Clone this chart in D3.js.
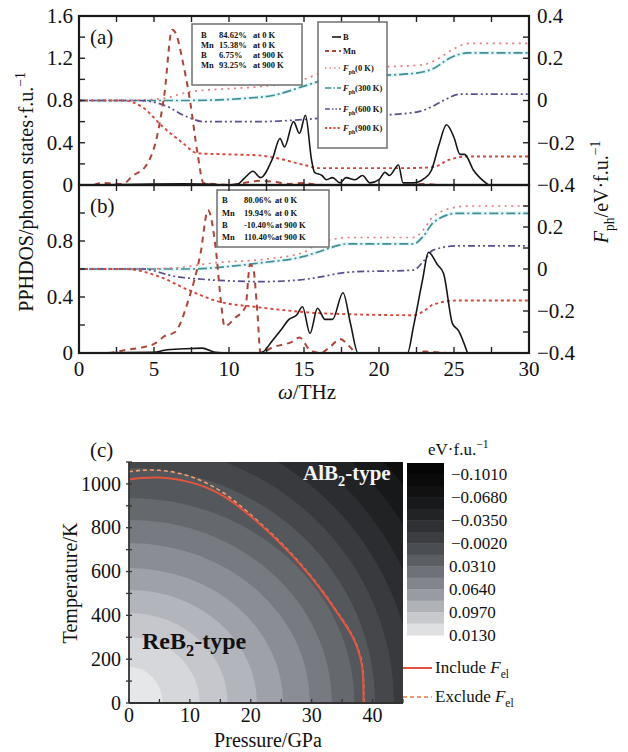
<!DOCTYPE html>
<html><head><meta charset="utf-8">
<script src="https://cdn.jsdelivr.net/npm/d3@7/dist/d3.min.js"></script>
<style>
body{margin:0;background:#fff;}
svg{display:block;}
text{font-family:"Liberation Serif","Times New Roman",serif;fill:#111;}
</style></head><body>
<svg id="chart" width="628" height="752"></svg>
<script>
// ---------------- data ----------------
const freqMajor = [0,5,10,15,20,25,30];
const freqMinor = [0,2.5,5,7.5,10,12.5,15,17.5,20,22.5,25,27.5,30];
const aLeftMajor = [0,0.4,0.8,1.2,1.6];
const aLeftMinor = [0,0.2,0.4,0.6,0.8,1.0,1.2,1.4,1.6];
const aRightMajor = [-0.4,-0.2,0,0.2,0.4];
const rightMinor = [-0.4,-0.3,-0.2,-0.1,0,0.1,0.2,0.3,0.4];
const bLeftMajor = [0,0.4,0.8];
const bLeftMinor = [0,0.2,0.4,0.6,0.8,1.0,1.2];
const bRightMajor = [-0.4,-0.2,0,0.2];

// panel (a): [frequency THz, PPHDOS]
const aB = [[0,0],[3,0.004],[5,0.01],[7,0.012],[8.5,0.008],[10,0],[10.6,0.01],[11,0.06],[11.6,0.13],[12.1,0.07],[12.9,0.25],[13.4,0.44],[13.7,0.36],[14.3,0.6],[14.7,0.49],[15.1,0.66],[15.5,0.24],[15.7,0.12],[16.2,0.09],[16.5,0.05],[16.9,0.07],[17.4,0.02],[17.8,0.07],[18.4,0.05],[18.9,0.09],[19.4,0.02],[20,0.05],[20.4,0.12],[20.7,0.09],[21.3,0.19],[21.6,0.02],[22.3,0.02],[23,0.06],[23.5,0.14],[24,0.38],[24.5,0.57],[25,0.45],[25.4,0.29],[25.7,0.29],[26.3,0.14],[27.3,0]];
const aMn = [[1,0],[1.5,0.02],[2.9,0.01],[3.6,0.09],[4.4,0.17],[5.2,0.46],[5.7,0.87],[6.2,1.47],[6.5,1.42],[6.9,1.18],[7.4,0.8],[7.9,0.3],[8.3,0.02],[9,0.01],[10,0],[11,0.02],[12,0.04],[13,0.03],[14,0.01],[15,0.02],[16,0],[22,0],[23,0.01],[24,0]];
// panel (a): [frequency THz, F_ph eV/f.u.]
const aF0   = [[0,0],[3,0],[5.6,0.01],[7.3,0.04],[9.7,0.055],[12,0.065],[15,0.1],[16.5,0.14],[18,0.155],[20.5,0.16],[23,0.17],[24,0.2],[25,0.245],[26,0.27],[30,0.27]];
const aF300 = [[0,0],[7,0],[9,0.002],[11,0.01],[13,0.025],[15,0.068],[16.5,0.1],[18,0.115],[20.5,0.12],[22.5,0.13],[23.6,0.15],[24.7,0.2],[25.9,0.225],[30,0.225]];
const aF600 = [[0,0],[4,0],[5.6,-0.02],[7.3,-0.08],[8.3,-0.1],[12,-0.1],[15,-0.09],[17,-0.078],[20,-0.07],[22.5,-0.055],[23.5,-0.03],[24.3,0],[25.4,0.03],[30,0.03]];
const aF900 = [[0,0],[2.9,0],[4.2,-0.03],[5.6,-0.125],[6.9,-0.2],[7.9,-0.25],[10,-0.255],[12,-0.26],[13,-0.27],[15,-0.305],[16,-0.32],[22,-0.32],[23.6,-0.315],[24.7,-0.28],[25.9,-0.265],[30,-0.265]];

// panel (b)
const bB = [[0,0],[5,0.005],[5.7,0.02],[7,0.03],[8.2,0.035],[9.1,0.005],[10,0],[11.5,0],[12.2,0.005],[12.9,0.09],[13.5,0.17],[14,0.24],[14.5,0.27],[14.9,0.33],[15.4,0.14],[15.9,0.32],[16.4,0.24],[16.9,0.24],[17.6,0.43],[18.1,0.21],[18.6,0],[21.9,0],[22.3,0.19],[22.9,0.52],[23.3,0.72],[23.9,0.63],[24.3,0.57],[24.9,0.21],[25.3,0.16],[25.9,0]];
const bMn = [[0.5,0],[1.9,0],[3,0.02],[4.2,0.04],[5.1,0.07],[5.7,0.12],[6.4,0.15],[7.3,0.38],[8.1,0.71],[8.6,1.02],[9.1,0.76],[9.5,0.33],[9.7,0.19],[10.4,0.25],[11.1,0.33],[11.4,0.63],[11.6,0.61],[11.9,0.28],[12.1,0],[12.9,0.04],[14.2,0.08],[14.7,0.11],[15.4,0.02],[16.1,0],[16.8,0.05],[17.4,0.1],[18.1,0.04],[18.5,0],[22.5,0],[23,0.01],[23.8,0.005],[24.5,0]];
const bF0   = [[0,0],[4,0],[6.4,0.005],[9.1,0.03],[12.2,0.045],[15,0.08],[15.9,0.12],[18,0.15],[22.3,0.15],[23,0.19],[23.6,0.25],[25.2,0.295],[26,0.3],[30,0.3]];
const bF300 = [[0,0],[7.5,0],[9.7,0.01],[12.2,0.03],[15,0.06],[15.9,0.08],[18,0.12],[22.3,0.12],[23,0.16],[23.6,0.22],[25.2,0.265],[30,0.265]];
const bF600 = [[0,0],[4.2,0],[6.4,-0.035],[8.4,-0.05],[12.2,-0.06],[15,-0.05],[15.9,-0.04],[18,-0.015],[22.3,-0.005],[23,0.04],[23.6,0.09],[25.2,0.11],[30,0.11]];
const bF900 = [[0,0],[3.1,0],[5.3,-0.035],[7.3,-0.1],[9.3,-0.155],[11.7,-0.18],[15,-0.205],[15.9,-0.21],[22.3,-0.22],[23,-0.2],[23.6,-0.17],[25.2,-0.15],[30,-0.15]];

const aNotes = [["B","84.62%","at 0 K"],["Mn","15.38%","at 0 K"],["B","6.75%","at 900 K"],["Mn","93.25%","at 900 K"]];
const bNotes = [["B","80.06%","at 0 K"],["Mn","19.94%","at 0 K"],["B","-10.40%","at 900 K"],["Mn","110.40%","at 900 K"]];

// panel (c)
const pressMajor = [0,10,20,30,40];
const pressMinor = [0,5,10,15,20,25,30,35,40,45];
const tempMajor = [0,200,400,600,800,1000];
const tempMinor = [0,100,200,300,400,500,600,700,800,900,1000,1100];
// contour band boundaries: intercept on pressure axis (GPa) and on temperature axis (K)
const bandP = [5.5,11.6,16.2,21,25.3,29.7,33.3,37,40.4,43.5,46.8,50,53.5,57];
const bandT = [165,300,411,516,616,730,836,936,1073,1180,1290,1400,1510,1620];
const bandColors = ["#e6e7e9","#d6d7db","#c5c7cc","#b2b5bb","#9ea1a8","#8a8d94","#777a80","#65686d","#54575b","#45474b","#383a3d","#2c2d30","#212224","#17181a","#0e0e0f"];
const cbarColors = ["#050505","#0a0a0b","#111112","#18191a","#222325","#2e3033","#3b3d41","#4a4d51","#5b5e63","#6e7177","#82858b","#989ba1","#afb2b7","#c7c9cd","#dfe0e2"];
const cbarLabels = ["−0.1010","−0.0680","−0.0350","−0.0020","0.0310","0.0640","0.0970","0.0130"];
const cInclude = [[0,1020],[2,1027],[5,1029],[8,1020],[11,1000],[13.5,974],[16,936],[18.5,886],[21.1,826],[24,752],[26.7,676],[29.5,588],[32.1,495],[34.5,400],[36.6,308],[37.6,245],[38.2,180],[38.45,110],[38.5,50],[38.5,0]];
const cExclude = [[0,1055],[2,1062],[5,1062],[8,1050],[11,1025],[13.5,992],[16,950],[18.5,895],[21.1,832],[24,757],[26.7,680],[29.5,591],[32.1,498],[34.5,403],[36.6,311],[37.6,248],[38.25,182],[38.5,110],[38.55,50],[38.55,0]];

// ---------------- helpers ----------------
const svg = d3.select("#chart");
const fmt = v => String(Math.round(v*10)/10).replace("-", "−");

function rich(sel, parts, fs) {
  let shift = 0;
  parts.forEach(p => {
    const target = p.sub ? fs*0.3 : (p.sup ? -fs*0.42 : 0);
    const ts = sel.append("tspan").text(p.t);
    if (target - shift !== 0) ts.attr("dy", target - shift);
    shift = target;
    if (p.sub || p.sup) ts.attr("font-size", fs*0.68);
    if (p.it) ts.attr("font-style", "italic");
  });
  return sel;
}

const X = d3.scaleLinear().domain([0,30]).range([79,529]);
const styles = {
  B:    {stroke:"#161616", w:1.6, dash:null},
  Mn:   {stroke:"#ad4539", w:2.0, dash:"6,5"},
  F0:   {stroke:"#e77a7c", w:1.7, dash:"2,4.5"},
  F300: {stroke:"#3e8e94", w:1.7, dash:"9,3,2,3"},
  F600: {stroke:"#5b4d8e", w:1.7, dash:"7,3,2,3,2,3"},
  F900: {stroke:"#d6473a", w:1.9, dash:"3,3"}
};

function drawPanel(p) {
  const g = svg.append("g");
  const y0 = p.yL.range()[0], y1 = p.yL.range()[1];
  const id = "clip" + p.name;
  svg.append("clipPath").attr("id", id).append("rect")
    .attr("x", X.range()[0]).attr("y", y1).attr("width", X.range()[1]-X.range()[0]).attr("height", y0-y1);
  const lg = g.append("g").attr("clip-path", `url(#${id})`);
  const lineL = d3.line().x(d=>X(d[0])).y(d=>p.yL(d[1])).curve(d3.curveMonotoneX);
  const lineR = d3.line().x(d=>X(d[0])).y(d=>p.yR(d[1])).curve(d3.curveMonotoneX);
  const series = [
    {d:p.F300, s:"F300", r:true, halo:true},
    {d:p.F0, s:"F0", r:true},
    {d:p.F600, s:"F600", r:true},
    {d:p.F900, s:"F900", r:true},
    {d:p.Mn, s:"Mn", r:false},
    {d:p.B, s:"B", r:false}
  ];
  series.forEach(se => {
    const st = styles[se.s];
    const gen = se.r ? lineR : lineL;
    if (se.halo) lg.append("path").attr("d", gen(se.d)).attr("fill","none")
      .attr("stroke","#d2eff1").attr("stroke-width",4).attr("opacity",0.55);
    lg.append("path").attr("d", gen(se.d)).attr("fill","none")
      .attr("stroke", st.stroke).attr("stroke-width", st.w)
      .attr("stroke-dasharray", st.dash).attr("stroke-linejoin","round");
  });
  // notes box
  const nb = p.noteBox;
  g.append("rect").attr("x", nb.x).attr("y", nb.y).attr("width", nb.w).attr("height", nb.h)
    .attr("fill","#fff").attr("stroke","#6f6f6f").attr("stroke-width",1.5);
  p.notes.forEach((row, i) => {
    row.forEach((t, j) => {
      g.append("text").attr("x", nb.cols[j]).attr("y", nb.rows[i])
        .attr("font-size", 8.5).attr("font-weight","bold").attr("fill","#222").text(t);
    });
  });
  // ticks
  const tk = g.append("g").attr("stroke","#222").attr("stroke-width",1.4);
  freqMinor.forEach(v => {
    tk.append("line").attr("x1", X(v)).attr("x2", X(v)).attr("y1", y0).attr("y2", y0-6);
    tk.append("line").attr("x1", X(v)).attr("x2", X(v)).attr("y1", y1).attr("y2", y1+6);
  });
  p.leftMinor.forEach(v => tk.append("line").attr("x1", X(0)).attr("x2", X(0)+6).attr("y1", p.yL(v)).attr("y2", p.yL(v)));
  rightMinor.forEach(v => tk.append("line").attr("x1", X(30)).attr("x2", X(30)-6).attr("y1", p.yR(v)).attr("y2", p.yR(v)));
  p.leftMajor.forEach(v => g.append("text").attr("x", 73).attr("y", p.yL(v)).attr("dy","0.33em")
    .attr("text-anchor","end").attr("font-size",21).text(fmt(v)));
  p.rightMajor.forEach(v => g.append("text").attr("x", 537).attr("y", p.yR(v)).attr("dy","0.33em")
    .attr("font-size",21).text(fmt(v)));
  // frame
  g.append("rect").attr("x", X(0)).attr("y", y1).attr("width", X(30)-X(0)).attr("height", y0-y1)
    .attr("fill","none").attr("stroke","#1a1a1a").attr("stroke-width",2.2);
  g.append("text").attr("x", 90).attr("y", p.labelY).attr("font-size",21).text(p.label);
}

drawPanel({
  name:"a", label:"(a)", labelY:44,
  yL: d3.scaleLinear().domain([0,1.6]).range([185,16]),
  yR: d3.scaleLinear().domain([-0.4,0.4]).range([185,16]),
  B:aB, Mn:aMn, F0:aF0, F300:aF300, F600:aF600, F900:aF900,
  leftMajor:aLeftMajor, leftMinor:aLeftMinor, rightMajor:aRightMajor,
  notes:aNotes, noteBox:{x:192,y:24,w:110,h:61,cols:[201,219,253],rows:[38,48,58,68]}
});
drawPanel({
  name:"b", label:"(b)", labelY:213,
  yL: d3.scaleLinear().domain([0,1.2]).range([353,185]),
  yR: d3.scaleLinear().domain([-0.4,0.4]).range([353,185]),
  B:bB, Mn:bMn, F0:bF0, F300:bF300, F600:bF600, F900:bF900,
  leftMajor:bLeftMajor, leftMinor:bLeftMinor, rightMajor:bRightMajor,
  notes:bNotes, noteBox:{x:217,y:190,w:112,h:57,cols:[222,244,275],rows:[203,216,228,240]}
});

// legend (a)
const leg = svg.append("g");
leg.append("rect").attr("x",318).attr("y",22).attr("width",69).attr("height",126)
  .attr("fill","#fff").attr("stroke","#6f6f6f").attr("stroke-width",1.5);
const legItems = [
  {s:"B", y:37, x1:332, parts:[{t:"B"}]},
  {s:"Mn", y:51, x1:325, parts:[{t:"Mn"}]},
  {s:"F0", y:68, x1:325, parts:[{t:"F",it:true},{t:"ph",sub:true},{t:"(0 K)"}]},
  {s:"F300", y:88, x1:325, parts:[{t:"F",it:true},{t:"ph",sub:true},{t:"(300 K)"}]},
  {s:"F600", y:109, x1:325, parts:[{t:"F",it:true},{t:"ph",sub:true},{t:"(600 K)"}]},
  {s:"F900", y:128, x1:325, parts:[{t:"F",it:true},{t:"ph",sub:true},{t:"(900 K)"}]}
];
legItems.forEach(it => {
  const st = styles[it.s];
  leg.append("line").attr("x1", it.x1).attr("x2", 341).attr("y1", it.y).attr("y2", it.y)
    .attr("stroke", st.stroke).attr("stroke-width", st.w).attr("stroke-dasharray", it.s==="Mn" ? "4,3" : (st.dash ? st.dash.split(",").map(v=>v*0.7).join(",") : null));
  const t = leg.append("text").attr("x", 343).attr("y", it.y+3).attr("font-size",8.5).attr("font-weight","bold").attr("fill","#222");
  rich(t, it.parts, 8.5);
});

// shared axis labels (a,b)
svg.append("text").attr("x", 307).attr("y", 399).attr("text-anchor","middle").attr("font-size",21)
  .call(s => rich(s, [{t:"ω",it:true},{t:"/THz"}], 21));
freqMajor.forEach(v => svg.append("text").attr("x", X(v)).attr("y", 376).attr("text-anchor","middle")
  .attr("font-size",21).text(v));
svg.append("text").attr("transform","translate(33,192) rotate(-90)").attr("text-anchor","middle").attr("font-size",20)
  .call(s => rich(s, [{t:"PPHDOS/phonon states·f.u."},{t:"−1",sup:true}], 20));
svg.append("text").attr("transform","translate(608,192) rotate(-90)").attr("text-anchor","middle").attr("font-size",20)
  .call(s => rich(s, [{t:"F",it:true},{t:"ph",sub:true},{t:"/eV·f.u."},{t:"−1",sup:true}], 20));

// ---------------- panel (c) ----------------
const P = d3.scaleLinear().domain([0,45]).range([129,403]);
const T = d3.scaleLinear().domain([0,1100]).range([703,462]);
svg.append("clipPath").attr("id","clipc").append("rect")
  .attr("x",P(0)).attr("y",T(1100)).attr("width",P(45)-P(0)).attr("height",T(0)-T(1100));
const cg = svg.append("g").attr("clip-path","url(#clipc)");
cg.append("rect").attr("x",P(0)).attr("y",T(1100)).attr("width",P(45)-P(0)).attr("height",T(0)-T(1100))
  .attr("fill", bandColors[bandColors.length-1]);
for (let i = bandP.length-1; i >= 0; i--) {
  cg.append("ellipse").attr("cx", P(0)).attr("cy", T(0))
    .attr("rx", P(bandP[i]) - P(0)).attr("ry", T(0) - T(bandT[i]))
    .attr("fill", bandColors[i]);
}
const cLine = d3.line().x(d=>P(d[0])).y(d=>T(d[1])).curve(d3.curveCatmullRom.alpha(0.5));
cg.append("path").attr("d", cLine(cExclude)).attr("fill","none").attr("stroke","#f2a070")
  .attr("stroke-width",1.6).attr("stroke-dasharray","4,3");
cg.append("path").attr("d", cLine(cInclude)).attr("fill","none").attr("stroke","#e4553f")
  .attr("stroke-width",2);
cg.append("text").attr("x",303).attr("y",480).attr("font-size",21).attr("font-weight","bold")
  .style("fill","#f4f4f4").call(s => rich(s, [{t:"AlB"},{t:"2",sub:true},{t:"-type"}], 21));
cg.append("text").attr("x",142).attr("y",649).attr("font-size",24).attr("font-weight","bold")
  .style("fill","#111").call(s => rich(s, [{t:"ReB"},{t:"2",sub:true},{t:"-type"}], 24));

// axes (c)
const ca = svg.append("g").attr("stroke","#333").attr("stroke-width",1.3);
ca.append("line").attr("x1",P(0)).attr("x2",P(0)).attr("y1",T(1100)).attr("y2",T(0)).attr("stroke-width",1.8);
ca.append("line").attr("x1",P(0)).attr("x2",P(45)).attr("y1",T(0)).attr("y2",T(0)).attr("stroke-width",1.8);
pressMinor.forEach(v => ca.append("line").attr("x1",P(v)).attr("x2",P(v)).attr("y1",T(0)).attr("y2",T(0)-4));
tempMinor.forEach(v => ca.append("line").attr("x1",P(0)-3).attr("x2",P(0)+3).attr("y1",T(v)).attr("y2",T(v)));
pressMajor.forEach(v => svg.append("text").attr("x",P(v)).attr("y",722).attr("text-anchor","middle").attr("font-size",20).text(v));
tempMajor.forEach(v => svg.append("text").attr("x",121).attr("y",T(v)).attr("dy","0.33em").attr("text-anchor","end").attr("font-size",20).text(v));
svg.append("text").attr("x",268).attr("y",747).attr("text-anchor","middle").attr("font-size",20).text("Pressure/GPa");
svg.append("text").attr("transform","translate(77,583) rotate(-90)").attr("text-anchor","middle").attr("font-size",20).text("Temperature/K");
svg.append("text").attr("x",90).attr("y",457).attr("font-size",21).text("(c)");

// colorbar
const cbY = d3.scaleBand().domain(d3.range(cbarColors.length)).range([463,635]);
cbarColors.forEach((c,i) => svg.append("rect").attr("x",407).attr("y",cbY(i)).attr("width",37)
  .attr("height",cbY.bandwidth()+0.5).attr("fill",c));
cbarLabels.forEach((t,k) => svg.append("text").attr("x", t.startsWith("−") ? 451 : 449)
  .attr("y", cbY(2*k) + cbY.bandwidth()).attr("dy","0.35em").attr("font-size",17).text(t));
svg.append("text").attr("x",428).attr("y",455).attr("font-size",17)
  .call(s => rich(s, [{t:"eV·f.u."},{t:"−1",sup:true}], 17));

// legend (c)
svg.append("line").attr("x1",403).attr("x2",432).attr("y1",668).attr("y2",668).attr("stroke","#e4553f").attr("stroke-width",2);
svg.append("line").attr("x1",403).attr("x2",432).attr("y1",697).attr("y2",697).attr("stroke","#ec9a6e").attr("stroke-width",1.8).attr("stroke-dasharray","4,3");
svg.append("text").attr("x",435).attr("y",673).attr("font-size",17)
  .call(s => rich(s, [{t:"Include "},{t:"F",it:true},{t:"el",sub:true}], 17));
svg.append("text").attr("x",435).attr("y",702).attr("font-size",17)
  .call(s => rich(s, [{t:"Exclude "},{t:"F",it:true},{t:"el",sub:true}], 17));
</script>
</body></html>
